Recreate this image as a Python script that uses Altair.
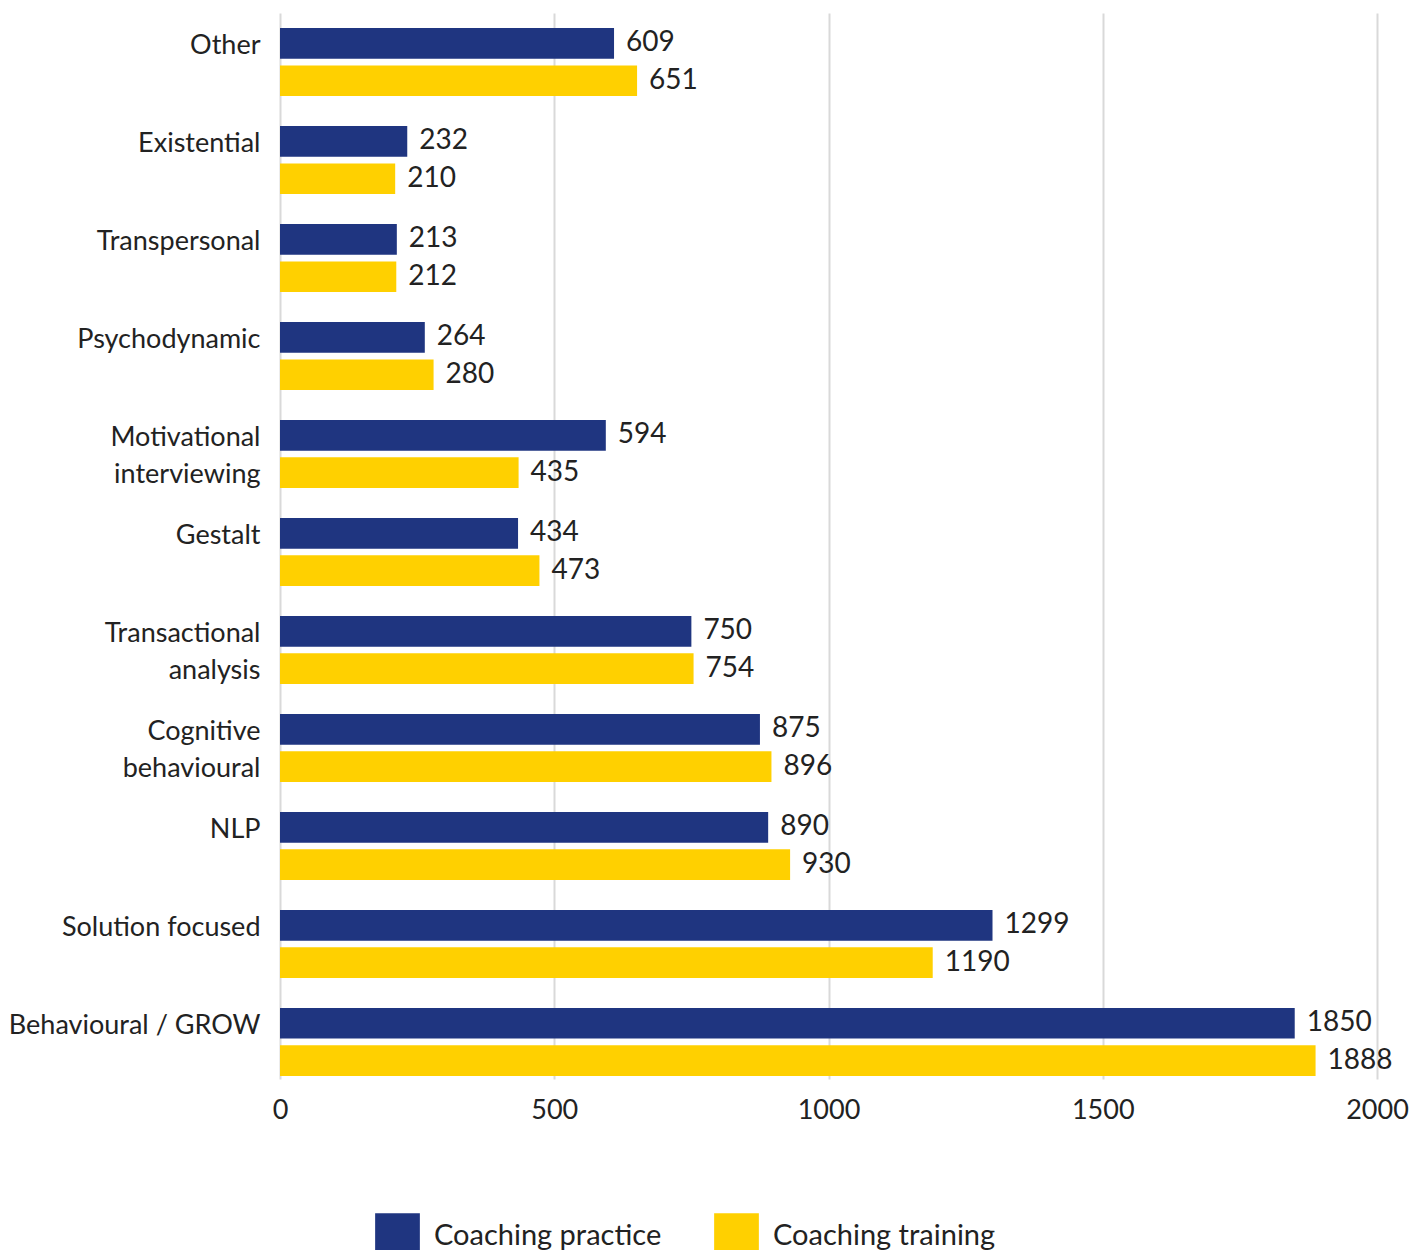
import altair as alt
import pandas as pd

categories = ["Other", "Existential", "Transpersonal", "Psychodynamic",
              "Motivational|interviewing", "Gestalt", "Transactional|analysis",
              "Cognitive|behavioural", "NLP", "Solution focused", "Behavioural / GROW"]
practice = [609, 232, 213, 264, 594, 434, 750, 875, 890, 1299, 1850]
training = [651, 210, 212, 280, 435, 473, 754, 896, 930, 1190, 1888]
series = ["Coaching practice", "Coaching training"]
colors = ["#1f3580", "#ffd000"]
x_ticks = [0, 500, 1000, 1500, 2000]

rows = []
for c, p, t in zip(categories, practice, training):
    rows.append({"category": c, "series": series[0], "value": p})
    rows.append({"category": c, "series": series[1], "value": t})
df = pd.DataFrame(rows)

FONT = "Lato"
TXT = "#222222"

y_enc = alt.Y(
    "category:N", sort=categories, title=None,
    scale=alt.Scale(paddingInner=0.306, paddingOuter=0.092, align=0.833),
    axis=alt.Axis(
        labelExpr="split(datum.value, '|')",
        labelFont=FONT, labelFontSize=27, labelColor=TXT, labelLineHeight=37,
        labelPadding=20, labelOffset=-16, ticks=False, domain=False, labelLimit=400,
        minExtent=272, maxExtent=272, grid=False,
    ),
)
yoff = alt.YOffset("series:N", sort=series, scale=alt.Scale(paddingInner=0.18))
x_enc = alt.X(
    "value:Q", title=None,
    scale=alt.Scale(domain=[0, 2000], nice=False),
    axis=alt.Axis(values=x_ticks, format="d", labelFont=FONT, labelFontSize=27,
                  labelColor=TXT, labelFlush=False, labelPadding=18, ticks=False,
                  domain=False, grid=True, gridColor="#d9d9d9", gridWidth=2),
)

base = alt.Chart(df)
bars = base.mark_bar().encode(
    y=y_enc, yOffset=yoff, x=x_enc,
    color=alt.Color(
        "series:N", sort=series, title=None,
        scale=alt.Scale(domain=series, range=colors),
        legend=alt.Legend(orient="none", legendX=95, legendY=1200, direction="horizontal",
                          symbolType="square", symbolSize=2000, symbolStrokeWidth=0,
                          labelFont=FONT, labelFontSize=29, labelColor=TXT,
                          labelOffset=14, columnPadding=52, labelLimit=400),
    ),
)
labels = base.mark_text(align="left", baseline="middle", dx=12, font=FONT,
                        fontSize=28, color=TXT).encode(
    y=alt.Y("category:N", sort=categories),
    yOffset=alt.YOffset("series:N", sort=series),
    x=alt.X("value:Q"),
    text=alt.Text("value:Q"),
)

chart = (bars + labels).properties(
    width=1097, height=1066,
    padding={"left": 0, "top": 5, "right": 5, "bottom": 5},
).configure_view(stroke=None)

chart.save("out.html", embed_options={"renderer": "svg", "actions": False})
